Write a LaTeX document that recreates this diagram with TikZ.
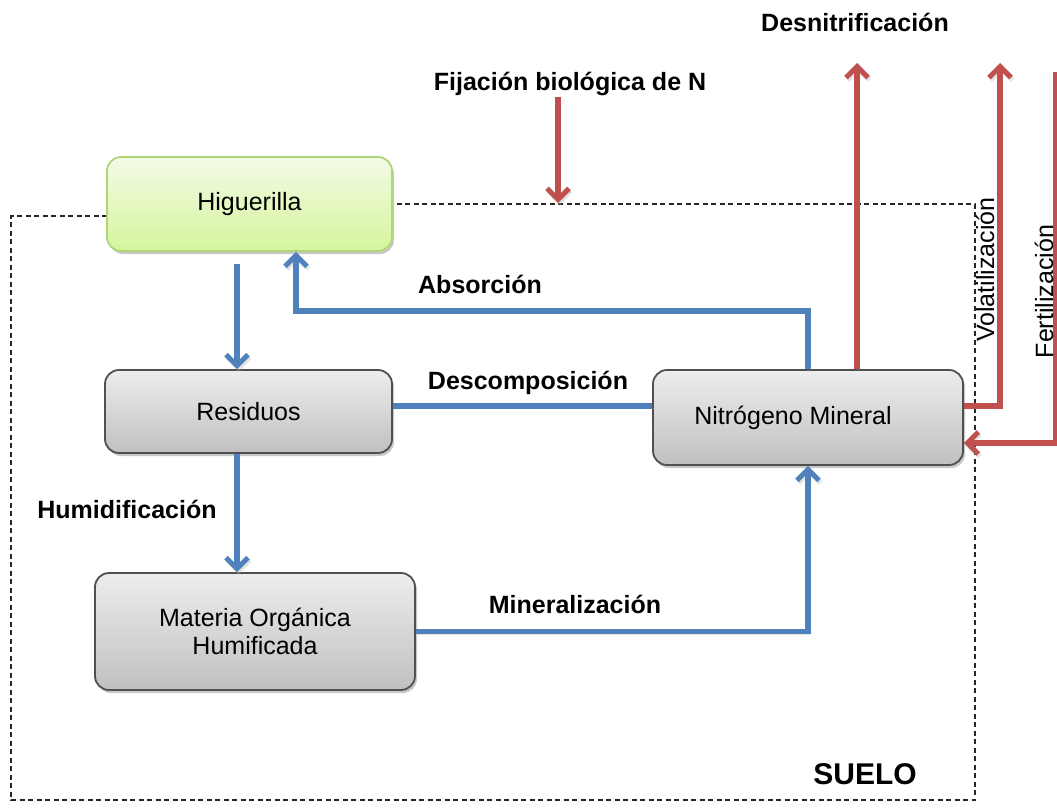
\documentclass[tikz,border=0pt]{standalone}
\usepackage{fontspec}
\setmainfont{Liberation Sans}
\usetikzlibrary{arrows.meta,shadows}
\definecolor{blueline}{HTML}{4F81BD}
\definecolor{redline}{HTML}{C0504D}
\definecolor{gtop}{HTML}{EDEDED}
\definecolor{gbot}{HTML}{C0C0C0}
\definecolor{boxline}{HTML}{505050}
\definecolor{greentop}{HTML}{F3FBE6}
\definecolor{greenbot}{HTML}{D5F59C}
\definecolor{greenline}{HTML}{AFD67A}
\begin{document}
\begin{tikzpicture}[x=1pt,y=-1pt,
  box/.style={draw=boxline, line width=1.8pt, rounded corners=14pt,
    top color=gtop, bottom color=gbot, inner sep=0pt, align=center,
    font=\fontsize{25}{28}\selectfont,
    drop shadow={shadow xshift=2pt, shadow yshift=-3pt, opacity=0.3, fill=black!70}},
  greenbox/.style={box, top color=greentop, bottom color=greenbot, draw=greenline},
  lbl/.style={font=\bfseries\fontsize{25}{28}\selectfont, anchor=base, inner sep=0pt},
  rotlbl/.style={font=\fontsize{25}{28}\selectfont, rotate=90, inner sep=0pt},
  soil/.style={draw=black!85, line width=1.4pt, dash pattern=on 5pt off 3.5pt},
  lineshadow/.style={preaction={draw=black!30, opacity=0.35,
    transform canvas={xshift=1.5pt,yshift=-2.5pt}}},
  tip/.style={-{Straight Barb[length=11pt,width=22pt,line width=5pt]}},
  bluearrow/.style={lineshadow, draw=blueline, line width=5.5pt, tip},
  blueline/.style={lineshadow, draw=blueline, line width=5.5pt},
  redarrow/.style={lineshadow, draw=redline, line width=5.5pt, tip}
]
\useasboundingbox (0,0) rectangle (1057,808);

% soil frame
\draw[soil] (107,216) -- (11,216) -- (11,800) -- (975,800) -- (975,204) -- (392,204);

% boxes
\node[greenbox, minimum width=285pt, minimum height=94pt] (H) at (249.5,204) {Higuerilla};
\node[box, minimum width=287pt, minimum height=83pt] (R) at (248.5,411.5) {Residuos};
\node[box, minimum width=310pt, minimum height=95pt] (N) at (808,417.5) {Nitrógeno Mineral\hspace*{30pt}};
\node[box, minimum width=320pt, minimum height=117pt] (M) at (255,631.5) {Materia Orgánica\\Humificada};

% helper coordinates
\coordinate (hx) at (237,0);
\coordinate (abs) at (296,311);
\coordinate (dy) at (0,406);
\coordinate (desx) at (857,63);
\coordinate (volx) at (1000,63);
\coordinate (fert) at (1056,72);
\coordinate (fy) at (0,443);
\coordinate (fij) at (558,97);
\coordinate (fijend) at (558,203);

% blue connectors
\draw[bluearrow] ([yshift=-12pt]H.south -| hx) -- (R.north -| hx);
\draw[bluearrow] (R.south -| hx) -- (M.north -| hx);
\draw[bluearrow] (N.north) |- (abs) -- (abs |- H.south);
\draw[blueline] (R.east |- dy) -- (N.west |- dy);
\draw[bluearrow] (M.east) -| (N.south);

% red connectors
\draw[redarrow] (fij) -- (fijend);
\draw[redarrow] (N.north -| desx) -- (desx);
\draw[redarrow] (N.east |- dy) -| (volx);
\draw[redarrow] (fert) |- (N.east |- fy);

% labels
\node[lbl] (ldes) at (855,32) {Desnitrificación};
\node[lbl] (lfij) at (570,90) {Fijación biológica de N};
\node[lbl] (labs) at (480,293) {Absorción};
\node[lbl] (ldec) at (528,389) {Descomposición};
\node[lbl] (lhum) at (127,518) {Humidificación};
\node[lbl] (lmin) at (575,613) {Mineralización};
\node[lbl, font=\bfseries\fontsize{30}{32}\selectfont] (lsue) at (865,784) {SUELO};
\node[rotlbl] (lvol) at (985,269.5) {Volatilización};
\node[rotlbl] (lfer) at (1044,291.5) {Fertilización};
\end{tikzpicture}
\end{document}
